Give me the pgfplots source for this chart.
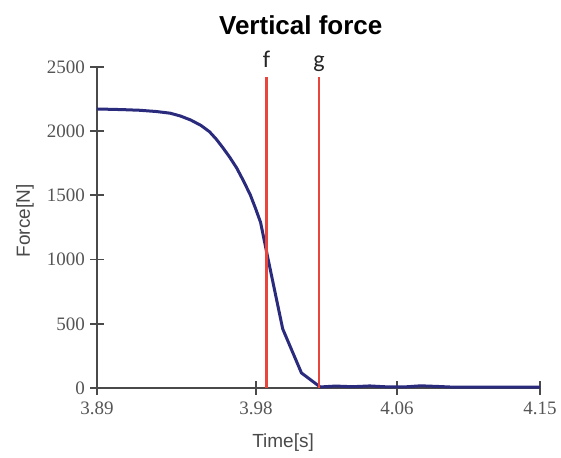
\documentclass[border=0pt]{standalone}
\usepackage{pgfplots}
\pgfplotsset{compat=1.18}
\usepackage{fontspec}
\setmainfont{Liberation Serif}
\newfontfamily\hel{Liberation Sans}
\newfontfamily\calf{Carlito}
\definecolor{navy}{HTML}{2B2B7E}
\definecolor{redl}{HTML}{E8453C}
\definecolor{axgray}{HTML}{4A4A4A}
\definecolor{tickgray}{HTML}{555555}
\begin{document}
\begin{tikzpicture}
\path[use as bounding box] (-48.5pt,-35pt) rectangle (232pt,194pt);
\begin{axis}[
  at={(0,0)}, anchor=south west, scale only axis,
  width=221.5pt, height=160.5pt,
  xmin=3.89, xmax=4.15, ymin=0, ymax=2500,
  axis lines*=left,
  xtick={3.89,3.9833,4.066,4.15},
  xticklabels={3.89,3.98,4.06,4.15},
  ytick={0,500,1000,1500,2000,2500},
  yticklabels={0,500,1000,1500,2000,2500},
  tick align=center,
  major tick length=7pt,
  axis line style={axgray, line width=1pt},
  tick style={axgray, line width=0.9pt},
  ticklabel style={font=\fontsize{9.5}{10}\selectfont, text=tickgray},
  yticklabel style={xshift=1pt},
  /pgf/number format/assume math mode=true,
  clip=false,
  title={Vertical force},
  title style={font=\hel\bfseries\fontsize{13}{15}\selectfont, at={(axis description cs:0.46,1)}, anchor=base, yshift=10pt},
  xlabel={Time[s]},
  xlabel style={font=\hel\fontsize{9.5}{11}\selectfont, text=axgray, at={(axis description cs:0.42,-0.171)}, anchor=center},
  ylabel={Force[N]},
  ylabel style={font=\hel\fontsize{9.5}{11}\selectfont, text=axgray, at={(axis description cs:-0.1625,0.52)}, anchor=center, rotate=0},
]
\addplot[navy, line width=1.5pt, line join=round] coordinates {
  (3.890,2173) (3.905,2168) (3.915,2163) (3.925,2153) (3.933,2140)
  (3.939,2118) (3.945,2087) (3.951,2045) (3.956,1996) (3.960,1938)
  (3.964,1869) (3.968,1795) (3.972,1713) (3.976,1612) (3.980,1503)
  (3.983,1400) (3.986,1290) (3.990,1030)
  (3.999,460) (4.010,117) (4.021,8) (4.030,15) (4.040,10) (4.050,16)
  (4.060,9) (4.070,8) (4.080,17) (4.090,12) (4.100,6) (4.150,6)
};
\addplot[redl, line width=1.2pt] coordinates {(3.9895,0) (3.9895,2425)};
\addplot[redl, line width=1.2pt] coordinates {(4.0203,0) (4.0203,2425)};
\node[font=\calf\fontsize{12}{14}\selectfont, anchor=base, text=black!85] at (axis cs:3.9895,2425) [yshift=4.5pt] {f};
\node[font=\calf\fontsize{12}{14}\selectfont, anchor=base, text=black!85] at (axis cs:4.0203,2425) [yshift=4.5pt] {g};
\end{axis}
\end{tikzpicture}
\end{document}
